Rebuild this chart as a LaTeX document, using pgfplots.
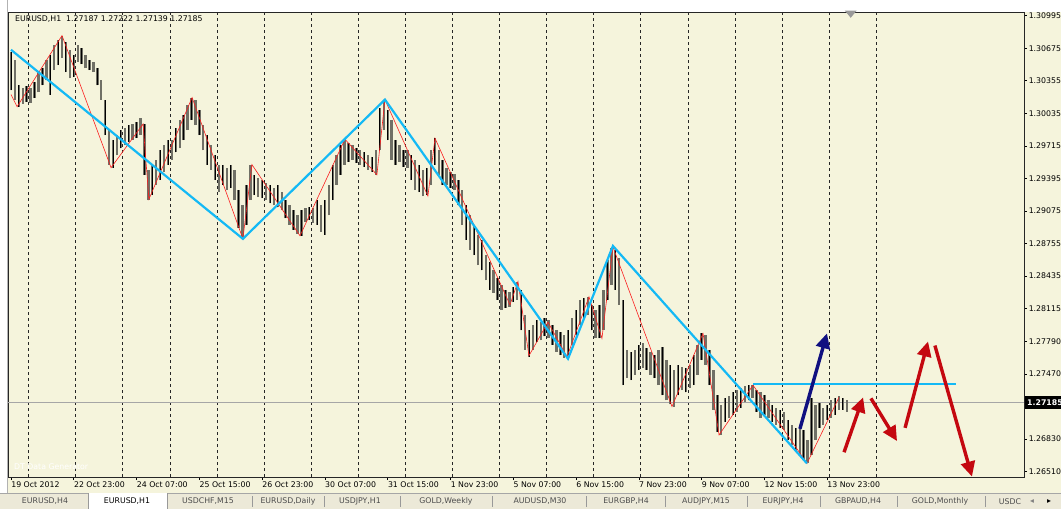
\documentclass[border=0pt]{standalone}
\usepackage{pgfplots}
\pgfplotsset{compat=1.18}
\usepackage{pgfplotstable}
\usepackage{fontspec}
\setmainfont{DejaVu Sans}
\usetikzlibrary{arrows.meta}

\definecolor{bg}{RGB}{245,244,220}
\definecolor{barGray}{RGB}{112,112,102}
\definecolor{zzblue}{RGB}{20,185,245}
\definecolor{zzred}{RGB}{250,30,30}
\definecolor{arrred}{RGB}{196,8,16}
\definecolor{arrnavy}{RGB}{16,16,128}
\definecolor{tabbg}{RGB}{236,233,216}

% hourly bars, every second hour: index, high, low
\pgfplotstableread{
i hi lo
0 1.3064 1.3026
2 1.3056 1.3017
4 1.3031 1.3010
6 1.3028 1.3013
8 1.3030 1.3015
10 1.3028 1.3014
12 1.3034 1.3019
14 1.3044 1.3024
16 1.3048 1.3031
18 1.3056 1.3036
20 1.3061 1.3022
22 1.3071 1.3046
24 1.3076 1.3051
26 1.3080 1.3058
28 1.3074 1.3044
30 1.3066 1.3038
32 1.3061 1.3039
34 1.3071 1.3054
36 1.3068 1.3052
38 1.3061 1.3048
40 1.3056 1.3046
42 1.3054 1.3044
44 1.3048 1.3031
46 1.3036 1.3017
48 1.3017 1.2982
50 1.2987 1.2953
52 1.2977 1.2950
54 1.2982 1.2962
56 1.2987 1.2969
58 1.2989 1.2972
60 1.2992 1.2975
62 1.2993 1.2977
64 1.2995 1.2979
66 1.2999 1.2982
68 1.2993 1.2943
70 1.2948 1.2918
72 1.2953 1.2923
74 1.2958 1.2933
76 1.2967 1.2938
78 1.2972 1.2946
80 1.2977 1.2953
82 1.2977 1.2958
84 1.2989 1.2965
86 1.2997 1.2969
88 1.3002 1.2977
90 1.3012 1.2987
92 1.3019 1.2997
94 1.3017 1.2992
96 1.3007 1.2982
98 1.2992 1.2967
100 1.2982 1.2953
102 1.2972 1.2948
104 1.2962 1.2938
106 1.2953 1.2926
108 1.2953 1.2933
110 1.2950 1.2928
112 1.2953 1.2930
114 1.2948 1.2918
116 1.2928 1.2891
118 1.2913 1.2880
120 1.2933 1.2894
122 1.2953 1.2918
124 1.2943 1.2923
126 1.2940 1.2921
128 1.2938 1.2920
130 1.2935 1.2918
132 1.2933 1.2915
134 1.2930 1.2913
136 1.2933 1.2911
138 1.2926 1.2908
140 1.2918 1.2900
142 1.2913 1.2894
144 1.2908 1.2889
146 1.2903 1.2885
148 1.2908 1.2883
150 1.2910 1.2897
152 1.2911 1.2899
154 1.2910 1.2896
156 1.2918 1.2894
158 1.2913 1.2887
160 1.2918 1.2884
162 1.2933 1.2903
164 1.2953 1.2918
166 1.2962 1.2933
168 1.2972 1.2943
170 1.2978 1.2953
172 1.2974 1.2956
174 1.2972 1.2958
176 1.2969 1.2955
178 1.2967 1.2953
180 1.2965 1.2951
182 1.2962 1.2948
184 1.2961 1.2946
186 1.2967 1.2943
188 1.3009 1.2967
190 1.3017 1.2987
192 1.3007 1.2977
194 1.2997 1.2958
196 1.2977 1.2953
198 1.2972 1.2956
200 1.2967 1.2951
202 1.2967 1.2950
204 1.2962 1.2938
206 1.2958 1.2928
208 1.2953 1.2926
210 1.2948 1.2922
212 1.2950 1.2923
214 1.2967 1.2933
216 1.2979 1.2953
218 1.2967 1.2943
220 1.2958 1.2933
222 1.2950 1.2933
224 1.2946 1.2930
226 1.2944 1.2928
228 1.2938 1.2913
230 1.2928 1.2894
232 1.2913 1.2879
234 1.2903 1.2869
236 1.2894 1.2864
238 1.2884 1.2854
240 1.2879 1.2849
242 1.2864 1.2839
244 1.2857 1.2830
246 1.2849 1.2827
248 1.2841 1.2820
250 1.2835 1.2810
252 1.2830 1.2812
254 1.2828 1.2813
256 1.2833 1.2818
258 1.2838 1.2820
260 1.2830 1.2790
262 1.2805 1.2771
264 1.2790 1.2764
266 1.2795 1.2771
268 1.2800 1.2778
270 1.2798 1.2780
272 1.2802 1.2784
274 1.2800 1.2782
276 1.2795 1.2776
278 1.2790 1.2769
280 1.2788 1.2766
282 1.2785 1.2763
284 1.2790 1.2762
286 1.2802 1.2776
288 1.2810 1.2785
290 1.2820 1.2795
292 1.2822 1.2802
294 1.2823 1.2805
296 1.2815 1.2790
298 1.2810 1.2782
300 1.2815 1.2782
302 1.2830 1.2790
304 1.2859 1.2820
306 1.2871 1.2835
308 1.2869 1.2830
310 1.2861 1.2815
312 1.2820 1.2736
314 1.2771 1.2743
316 1.2769 1.2741
318 1.2771 1.2746
320 1.2776 1.2751
322 1.2777 1.2753
324 1.2773 1.2751
326 1.2769 1.2746
328 1.2766 1.2743
330 1.2771 1.2736
332 1.2774 1.2726
334 1.2761 1.2721
336 1.2756 1.2717
338 1.2751 1.2715
340 1.2756 1.2726
342 1.2754 1.2731
344 1.2753 1.2729
346 1.2756 1.2733
348 1.2766 1.2736
350 1.2776 1.2746
352 1.2787 1.2761
354 1.2785 1.2756
356 1.2771 1.2736
358 1.2751 1.2712
360 1.2726 1.2690
362 1.2716 1.2687
364 1.2723 1.2700
366 1.2725 1.2704
368 1.2729 1.2707
370 1.2731 1.2710
372 1.2733 1.2714
374 1.2735 1.2719
376 1.2736 1.2721
378 1.2736 1.2723
380 1.2731 1.2710
382 1.2729 1.2704
384 1.2726 1.2707
386 1.2721 1.2704
388 1.2716 1.2700
390 1.2714 1.2697
392 1.2712 1.2694
394 1.2710 1.2692
396 1.2702 1.2682
398 1.2697 1.2677
400 1.2694 1.2670
402 1.2697 1.2667
404 1.2692 1.2662
406 1.2682 1.2659
408 1.2723 1.2667
410 1.2716 1.2682
412 1.2718 1.2694
414 1.2714 1.2697
416 1.2716 1.2702
418 1.2721 1.2704
420 1.2723 1.2707
422 1.2725 1.2712
424 1.2723 1.2712
426 1.2721 1.2710
}\bars

\begin{document}
\fontsize{7.8}{9}\selectfont
\begin{tikzpicture}
\useasboundingbox (0,0) rectangle (1061pt,509pt);
\fill[bg] (0,0) rectangle (1061pt,509pt);
\fill[white] (0,497pt) rectangle (1061pt,509pt);
\fill[white] (0,15pt) rectangle (7pt,509pt);
\draw[gray!60] (7pt,15pt) -- (7pt,509pt);

\begin{axis}[
    at={(8pt,32pt)}, anchor=south west,
    scale only axis, width=1016pt, height=465pt,
    xmin=-1.53, xmax=516.3,
    ymin=1.264563, ymax=1.31032,
    axis background/.style={fill=bg},
    axis line style={black!85, line width=0.9pt},
    clip=false,
    tick align=outside,
    major tick length=3pt,
    tick style={black, line width=0.6pt},
    xtick pos=left, ytick pos=right,
    xticklabel pos=left, yticklabel pos=right,
    xtick={0,32,64,96,128,160,192,224,256,288,320,352,384,416},
    xticklabels={19 Oct 2012, 22 Oct 23:00, 24 Oct 07:00, 25 Oct 15:00,
      26 Oct 23:00, 30 Oct 07:00, 31 Oct 15:00, 1 Nov 23:00, 5 Nov 07:00,
      6 Nov 15:00, 7 Nov 23:00, 9 Nov 07:00, 12 Nov 15:00, 13 Nov 23:00},
    xticklabel style={anchor=north west, xshift=-2.5pt, yshift=1pt, font=\fontsize{7.8}{9}\selectfont},
    extra x ticks={9,33,57,81,105,129,153,177,201,225,249,273,297,321,345,369,393,417,441},
    extra x tick labels={},
    extra x tick style={major tick length=0pt, grid=major,
      major grid style={black!85, line width=0.7pt, dash pattern=on 3pt off 3pt}},
    ytick={1.30995,1.30675,1.30355,1.30035,1.29715,1.29395,1.29075,1.28755,
      1.28435,1.28115,1.27790,1.27470,1.26830,1.26510},
    yticklabels={1.30995,1.30675,1.30355,1.30035,1.29715,1.29395,1.29075,1.28755,
      1.28435,1.28115,1.27790,1.27470,1.26830,1.26510},
    yticklabel style={anchor=west, xshift=-1pt, font=\fontsize{7.8}{9}\selectfont},
]
% current price line
\addplot[gray!70, line width=0.9pt] coordinates {(-1.53,1.27185) (516.3,1.27185)};

% bars (high-low ranges)
\addplot[draw=none, mark=none,
  error bars/.cd, y dir=plus, y explicit, error mark=none,
  error bar style={draw=barGray, line width=2.4pt}]
  table[x=i, y=lo, y error expr=\thisrow{hi}-\thisrow{lo}] {\bars};
\addplot[draw=none, mark=none, each nth point=2,
  error bars/.cd, y dir=plus, y explicit, error mark=none,
  error bar style={draw=black, line width=0.9pt}]
  table[x=i, y=lo, y error expr=\thisrow{hi}-\thisrow{lo}] {\bars};

% zigzag
\addplot[zzred, line width=0.6pt] coordinates {
  (0,1.3022) (3.1,1.3010) (26,1.3080) (51,1.2950) (67.3,1.2993) (70.3,1.2919)
  (92.3,1.3019) (118.2,1.2880) (122.8,1.2953) (147.3,1.2883) (170.2,1.2978)
  (186.5,1.2943) (190.6,1.3017) (212.5,1.2922) (216.1,1.2979) (254.3,1.2815)
  (258.4,1.2838) (264,1.2765) (273.7,1.2798) (283.4,1.2764) (294.6,1.2823)
  (301.2,1.2782) (306.8,1.2872) (336.9,1.2715) (352.7,1.2787) (360.9,1.2687)
  (378.2,1.2736) (405.7,1.2659) (422,1.2724)};

% trend lines
\addplot[zzblue, line width=2.2pt] coordinates {
  (0,1.3066) (118.2,1.2880) (190.6,1.3017) (283.9,1.2762) (306.8,1.2873) (405.7,1.2659)};
\addplot[zzblue, line width=2.2pt] coordinates {(378.2,1.2737) (481.7,1.2737)};

% forecast arrows
\addplot[arrnavy, line width=3.4pt, -{Triangle[length=15pt,width=14pt]}]
  coordinates {(402.1,1.2693) (415.9,1.2787)};
\addplot[arrred, line width=3.4pt, -{Triangle[length=15pt,width=14pt]}]
  coordinates {(424.6,1.2670) (434.3,1.2724)};
\addplot[arrred, line width=3.4pt, -{Triangle[length=15pt,width=14pt]}]
  coordinates {(438.3,1.2723) (451.6,1.2681)};
\addplot[arrred, line width=3.4pt, -{Triangle[length=15pt,width=14pt]}]
  coordinates {(455.7,1.2694) (467.4,1.2779)};
\addplot[arrred, line width=3.4pt, -{Triangle[length=15pt,width=14pt]}]
  coordinates {(470.9,1.2775) (489.8,1.2646)};

% labels inside the chart
\node[anchor=north west, inner sep=0pt] at ([xshift=7pt,yshift=-4pt]rel axis cs:0,1)
  {EURUSD,H1\ \ 1.27187 1.27222 1.27139 1.27185};
\node[anchor=west, inner sep=0pt, text=white] at ([xshift=6pt,yshift=10pt]rel axis cs:0,0)
  {DT Data Generator};
\fill[gray!80] (axis cs:425,1.31045) -- (axis cs:431,1.31045) -- (axis cs:428,1.30975) -- cycle;
\node[anchor=west, fill=black, text=white, inner xsep=2pt, inner ysep=0pt,
  minimum height=13pt, font=\fontsize{7.8}{9}\selectfont\bfseries]
  at ([xshift=1pt]axis cs:516.3,1.27185) {1.27185};
\end{axis}

% tabs
\fill[tabbg] (0,0) rectangle (1061pt,15pt);
\draw[gray!70] (0,15.5pt) -- (1061pt,15.5pt);
\fill[white] (88pt,0) rectangle (167pt,16pt);
\draw[gray!80] (88pt,0) -- (88pt,16pt) (167pt,0) -- (167pt,16pt);
\foreach \s in {252,324,400,492,586,665,747,820,897,985}
  \draw[gray!80] (\s pt,2pt) -- (\s pt,13pt);
\begin{scope}[every node/.style={text=black!70, inner sep=0pt}]
\node at (45pt,7.5pt) {EURUSD,H4};
\node[text=black] at (127pt,7.5pt) {EURUSD,H1};
\node at (208pt,7.5pt) {USDCHF,M15};
\node at (288pt,7.5pt) {EURUSD,Daily};
\node at (360pt,7.5pt) {USDJPY,H1};
\node at (446pt,7.5pt) {GOLD,Weekly};
\node at (540pt,7.5pt) {AUDUSD,M30};
\node at (626pt,7.5pt) {EURGBP,H4};
\node at (706pt,7.5pt) {AUDJPY,M15};
\node at (783pt,7.5pt) {EURJPY,H4};
\node at (858pt,7.5pt) {GBPAUD,H4};
\node at (940pt,7.5pt) {GOLD,Monthly};
\node at (1010pt,7.5pt) {USDC};
\node[text=gray] at (1032pt,7.5pt) {◂};
\node[text=black] at (1049pt,7.5pt) {▸};
\end{scope}
\end{tikzpicture}
\end{document}
